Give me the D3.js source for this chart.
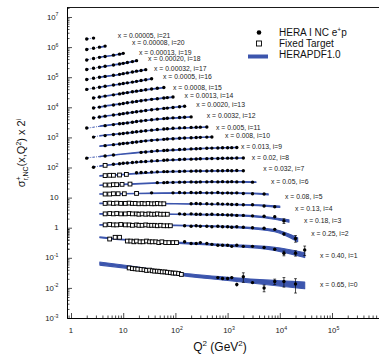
<!DOCTYPE html>
<html>
<head>
<meta charset="utf-8">
<script src="https://cdn.jsdelivr.net/npm/d3@7"></script>
<style>
  body { margin: 0; background: #fff; }
  svg { display: block; font-family: "Liberation Sans", Arial, Helvetica, sans-serif; }
</style>
</head>
<body>
<svg id="chart" width="379" height="356"></svg>
<script>
// x bins, index = i (plotted value is sigma_r * 2^i)
const xLabels = ['0.65', '0.40', '0.25', '0.18', '0.13', '0.08', '0.05', '0.032', '0.02', '0.013', '0.008',
  '0.005', '0.0032', '0.0020', '0.0013', '0.0008', '0.0005', '0.00032', '0.00020', '0.00013', '0.00008', '0.00005'];

// HERA I NC e+p combined points
const heraQ2 = [
  [650, 800, 1000, 1200, 1500, 2000, 3000, 5000, 8000, 12000, 20000],
  [150, 200, 250, 300, 400, 500, 650, 800, 1000, 1200, 1500, 2000, 3000, 5000, 8000, 12000, 20000, 30000],
  [150, 200, 250, 300, 400, 500, 650, 800, 1000, 1200, 1500, 2000, 3000, 5000, 8000, 12000, 20000],
  [120, 150, 200, 250, 300, 400, 500, 650, 800, 1000, 1200, 1500, 2000, 3000, 5000, 8000, 12000],
  [200, 250, 300, 400, 500, 650, 800, 1000, 1200, 1500, 2000, 3000, 5000, 8000],
  [35, 90, 120, 150, 200, 250, 300, 400, 500, 650, 800, 1000, 1200, 1500, 2000, 3000, 5000],
  [45, 60, 70, 90, 120, 150, 200, 250, 300, 400, 500, 650, 800, 1000, 1200, 1500, 2000, 3000],
  [18, 22, 27, 35, 45, 60, 70, 90, 120, 150, 200, 250, 300, 400, 500, 650, 800, 1000, 1200, 1500, 2000],
  [2.7, 6.5, 8.5, 10, 12, 15, 18, 22, 27, 35, 45, 60, 70, 90, 120, 150, 200, 250, 300, 400, 500, 650, 800, 1000, 1200, 1500, 2000],
  [2, 4.5, 6.5, 22, 27, 35, 45, 60, 70, 90, 120, 150, 200, 250, 300, 400, 500, 650, 800, 1000, 1200, 1500],
  [4.5, 6.5, 8.5, 10, 12, 15, 18, 22, 27, 35, 45, 60, 70, 90, 120, 150, 200, 250, 300, 400, 500],
  [2.7, 4.5, 6.5, 8.5, 10, 12, 15, 18, 22, 27, 35, 45, 60, 70, 90, 120, 150, 200, 250, 300, 400],
  [2, 4.5, 6.5, 8.5, 10, 12, 15, 18, 22, 27, 35, 45, 60, 70, 90, 120, 150, 200],
  [2.7, 3.5, 4.5, 6.5, 8.5, 10, 12, 15, 18, 22, 27, 35, 45, 60, 70, 90, 120, 150],
  [2.7, 3.5, 4.5, 6.5, 8.5, 10, 12, 15, 18, 22, 27, 35, 45, 60, 70, 90],
  [2.7, 3.5, 4.5, 6.5, 8.5, 10, 12, 15, 18, 22, 27, 35, 45, 60],
  [2, 2.7, 3.5, 4.5, 6.5, 8.5, 10, 12, 15, 18, 22, 27, 35],
  [2, 2.7, 3.5, 4.5, 6.5, 8.5, 10, 12, 15, 18, 22, 27],
  [2, 2.7, 3.5, 4.5, 6.5, 8.5, 10, 12, 15, 18],
  [2, 2.7, 3.5, 4.5, 6.5, 8.5, 10],
  [2, 2.7, 3.5, 4.5],
  [2, 2.7]
];
const heraSigma = [
  [0.022, 0.0205, 0.0205, 0.022, 0.013, 0.0235, 0.015, 0.0099, 0.0163, 0.0163, 0.0135],
  [0.17, 0.15, 0.15, 0.16, 0.15, 0.14, 0.13, 0.13, 0.13, 0.12, 0.13, 0.12, 0.12, 0.11, 0.096, 0.071, 0.071, 0.091],
  [0.29, 0.28, 0.29, 0.28, 0.28, 0.27, 0.28, 0.27, 0.27, 0.26, 0.27, 0.26, 0.25, 0.24, 0.22, 0.155, 0.11],
  [0.36, 0.35, 0.36, 0.35, 0.35, 0.34, 0.35, 0.34, 0.34, 0.33, 0.33, 0.32, 0.32, 0.31, 0.30, 0.29, 0.21],
  [0.39, 0.40, 0.39, 0.39, 0.38, 0.39, 0.38, 0.38, 0.37, 0.37, 0.36, 0.36, 0.33, 0.31],
  [0.45, 0.45, 0.46, 0.45, 0.46, 0.45, 0.46, 0.45, 0.45, 0.46, 0.44, 0.45, 0.44, 0.45, 0.43, 0.42, 0.41],
  [0.49, 0.49, 0.50, 0.50, 0.51, 0.51, 0.52, 0.51, 0.52, 0.52, 0.53, 0.52, 0.53, 0.52, 0.53, 0.52, 0.52, 0.51],
  [0.52, 0.53, 0.54, 0.55, 0.56, 0.57, 0.57, 0.58, 0.58, 0.59, 0.59, 0.60, 0.60, 0.60, 0.61, 0.61, 0.61, 0.62, 0.61, 0.62, 0.61],
  [0.40, 0.50, 0.52, 0.54, 0.55, 0.57, 0.59, 0.61, 0.62, 0.64, 0.66, 0.68, 0.69, 0.70, 0.72, 0.73, 0.74, 0.75, 0.76, 0.77, 0.78, 0.78, 0.79, 0.80, 0.80, 0.81, 0.81],
  [0.40, 0.47, 0.51, 0.62, 0.64, 0.67, 0.70, 0.72, 0.73, 0.75, 0.77, 0.79, 0.81, 0.82, 0.83, 0.85, 0.86, 0.87, 0.88, 0.88, 0.89, 0.90],
  [0.52, 0.56, 0.59, 0.61, 0.63, 0.66, 0.69, 0.72, 0.75, 0.78, 0.81, 0.84, 0.86, 0.88, 0.91, 0.93, 0.95, 0.97, 0.98, 1.00, 1.01],
  [0.50, 0.56, 0.61, 0.64, 0.66, 0.69, 0.72, 0.75, 0.78, 0.81, 0.85, 0.89, 0.93, 0.95, 0.98, 1.01, 1.03, 1.05, 1.06, 1.07, 1.08],
  [0.50, 0.60, 0.65, 0.69, 0.71, 0.74, 0.78, 0.82, 0.86, 0.90, 0.94, 0.99, 1.03, 1.06, 1.09, 1.12, 1.14, 1.17],
  [0.54, 0.58, 0.62, 0.68, 0.72, 0.75, 0.79, 0.83, 0.87, 0.91, 0.96, 1.01, 1.06, 1.12, 1.15, 1.20, 1.27, 1.32],
  [0.58, 0.62, 0.67, 0.73, 0.78, 0.82, 0.86, 0.91, 0.96, 1.01, 1.06, 1.12, 1.18, 1.24, 1.28, 1.34],
  [0.62, 0.67, 0.72, 0.79, 0.85, 0.89, 0.94, 1.00, 1.05, 1.11, 1.17, 1.24, 1.31, 1.39],
  [0.60, 0.66, 0.71, 0.76, 0.84, 0.90, 0.94, 0.99, 1.05, 1.11, 1.18, 1.26, 1.36],
  [0.64, 0.70, 0.76, 0.81, 0.89, 0.95, 1.00, 1.06, 1.14, 1.21, 1.28, 1.36],
  [0.69, 0.76, 0.82, 0.88, 0.97, 1.05, 1.10, 1.17, 1.26, 1.35],
  [0.71, 0.80, 0.87, 0.93, 1.03, 1.11, 1.18],
  [0.79, 0.87, 0.95, 1.03],
  [0.89, 0.95]
];
// relative total errors, only where the bars show
const heraErr = [
  [0.05, 0.06, 0.08, 0.12, 0.15, 0.35, 0.1, 0.25, 0.2, 0.35, 0.5],
  [0.03, 0.03, 0.03, 0.03, 0.03, 0.03, 0.03, 0.03, 0.04, 0.04, 0.05, 0.05, 0.06, 0.07, 0.1, 0.18, 0.2, 0.35],
  [0.02, 0.02, 0.02, 0.02, 0.02, 0.02, 0.02, 0.03, 0.03, 0.03, 0.03, 0.04, 0.04, 0.05, 0.07, 0.12, 0.25],
  [0.02, 0.02, 0.02, 0.02, 0.02, 0.02, 0.02, 0.02, 0.03, 0.03, 0.03, 0.03, 0.04, 0.04, 0.06, 0.1, 0.18]
];

// fixed target (BCDMS, NMC) points
const ftQ2 = [
  [13, 15, 17, 19, 22, 25, 28, 32, 36, 40, 45, 50, 56, 63, 70, 80, 90, 100, 115, 130],
  [5.5, 7, 8.5, 12, 14, 16, 18, 21, 24, 28, 32, 36, 42, 48, 55, 65, 75, 90, 105],
  [4.5, 5.5, 6.5, 7.5, 9, 11, 13, 15, 18, 20, 23, 27, 31, 35, 40, 45, 52, 60, 70, 80],
  [4.5, 5.5, 6.5, 7.5, 9, 11, 13, 15, 18, 20, 23, 27, 31, 35, 40, 45, 52, 60, 70],
  [4.5, 5.5, 6.5, 7.5, 9, 11, 13, 15, 17, 20, 23, 26, 30, 35, 40, 45, 52, 60],
  [4.5, 5.5, 6.5, 8, 10.5, 18],
  [4.5, 5.5, 6.5, 7.5, 9.5, 13.5],
  [4.5, 5.5, 6.5, 8.5, 11.5],
  [4.5]
];
const ftSigma = [
  [0.046, 0.044, 0.043, 0.042, 0.041, 0.040, 0.038, 0.039, 0.037, 0.036, 0.036, 0.035, 0.034, 0.034, 0.033, 0.032, 0.031, 0.031, 0.030, 0.028],
  [0.21, 0.24, 0.24, 0.18, 0.18, 0.17, 0.18, 0.17, 0.17, 0.18, 0.17, 0.17, 0.17, 0.16, 0.17, 0.16, 0.16, 0.16, 0.16],
  [0.31, 0.32, 0.31, 0.31, 0.32, 0.31, 0.31, 0.30, 0.31, 0.30, 0.30, 0.31, 0.30, 0.30, 0.30, 0.29, 0.30, 0.29, 0.29, 0.29],
  [0.36, 0.37, 0.36, 0.37, 0.36, 0.36, 0.37, 0.36, 0.36, 0.35, 0.36, 0.35, 0.36, 0.35, 0.35, 0.36, 0.35, 0.35, 0.35],
  [0.40, 0.41, 0.40, 0.41, 0.40, 0.40, 0.41, 0.40, 0.40, 0.39, 0.40, 0.39, 0.40, 0.39, 0.39, 0.40, 0.39, 0.39],
  [0.41, 0.41, 0.42, 0.42, 0.42, 0.43],
  [0.41, 0.41, 0.42, 0.42, 0.43, 0.44],
  [0.42, 0.43, 0.43, 0.44, 0.46],
  [0.46]
];

// HERAPDF1.0 prediction: nodes of the band (centre and relative half width)
const pdfQ2 = [
  [3.5, 10, 30, 100, 1000, 30000],
  [3.5, 10, 100, 1000, 8000, 30000],
  [3.5, 10, 100, 1000, 8000, 22000],
  [3.5, 10, 100, 1000, 5000, 15000],
  [3.5, 10, 100, 1000, 5000, 10000],
  [3.5, 10, 60, 500, 3000, 6000],
  [3.5, 10, 45, 300, 1500, 3500],
  [3.5, 8.5, 30, 200, 2000],
  [2.7, 4.5, 12, 60, 400, 2000],
  [2, 3.5, 10, 60, 300, 1500],
  [3.5, 8.5, 27, 120, 500],
  [2.7, 3.5, 10, 35, 400],
  [2, 3.5, 8.5, 27, 200],
  [2.7, 4.5, 10, 35, 150],
  [2.7, 4.5, 10, 27, 90],
  [2.7, 4.5, 10, 27, 60],
  [2, 3.5, 8.5, 18, 35],
  [2, 3.5, 8.5, 15, 27],
  [2, 3.5, 6.5, 12, 18],
  [2, 3.5, 6.5, 10],
  [2, 2.7, 3.5, 4.5],
  [2, 2.7]
];
const pdfSigma = [
  [0.065, 0.052, 0.040, 0.030, 0.020, 0.0125],
  [0.24, 0.20, 0.16, 0.13, 0.10, 0.062],
  [0.31, 0.31, 0.30, 0.27, 0.20, 0.10],
  [0.36, 0.36, 0.35, 0.33, 0.28, 0.21],
  [0.40, 0.40, 0.39, 0.37, 0.34, 0.31],
  [0.41, 0.42, 0.44, 0.45, 0.43, 0.40],
  [0.40, 0.43, 0.48, 0.52, 0.52, 0.51],
  [0.41, 0.45, 0.52, 0.59, 0.61],
  [0.41, 0.46, 0.55, 0.67, 0.77, 0.81],
  [0.41, 0.45, 0.55, 0.71, 0.83, 0.90],
  [0.50, 0.59, 0.75, 0.91, 1.01],
  [0.51, 0.55, 0.66, 0.84, 1.08],
  [0.49, 0.57, 0.69, 0.89, 1.17],
  [0.54, 0.62, 0.75, 1.01, 1.32],
  [0.58, 0.67, 0.82, 1.06, 1.33],
  [0.62, 0.72, 0.89, 1.16, 1.38],
  [0.60, 0.71, 0.89, 1.10, 1.35],
  [0.64, 0.76, 0.94, 1.13, 1.35],
  [0.69, 0.82, 0.97, 1.16, 1.33],
  [0.72, 0.87, 1.02, 1.17],
  [0.80, 0.88, 0.95, 1.01],
  [0.88, 0.96]
];
const pdfErr = [
  [0.12, 0.11, 0.10, 0.10, 0.12, 0.25],
  [0.03, 0.03, 0.04, 0.06, 0.12, 0.18],
  [0.02, 0.02, 0.02, 0.04, 0.08, 0.15],
  [0.02, 0.02, 0.02, 0.03, 0.05, 0.09],
  [0.02, 0.02, 0.02, 0.02, 0.04, 0.06],
  [0.02, 0.02, 0.02, 0.02, 0.03, 0.04],
  [0.02, 0.02, 0.02, 0.02, 0.02, 0.03],
  [0.02, 0.02, 0.02, 0.02, 0.02],
  [0.02, 0.02, 0.02, 0.02, 0.02, 0.02],
  [0.02, 0.02, 0.02, 0.02, 0.02, 0.02],
  [0.02, 0.02, 0.02, 0.02, 0.02],
  [0.02, 0.02, 0.02, 0.02, 0.02],
  [0.02, 0.02, 0.02, 0.02, 0.02],
  [0.02, 0.02, 0.02, 0.02, 0.02],
  [0.02, 0.02, 0.02, 0.02, 0.02],
  [0.02, 0.02, 0.02, 0.02, 0.02],
  [0.02, 0.02, 0.02, 0.02, 0.02],
  [0.02, 0.02, 0.02, 0.02, 0.02],
  [0.02, 0.02, 0.02, 0.02, 0.02],
  [0.02, 0.02, 0.02, 0.02],
  [0.02, 0.02, 0.02, 0.02],
  [0.02, 0.02]
];

// where each "x = ..., i=..." label sits (Q2, sigma)
const labelQ2 = [5.9e4, 5.9e4, 4.0e4, 2.9e4, 1.96e4, 1.26e4, 6800, 4800, 2900, 1800, 890, 600, 400, 250, 150, 90, 58, 39, 30, 20, 14.7, 7.9];
const labelSigma = [0.0125, 0.0574, 0.155, 0.225, 0.282, 0.353, 0.556, 0.70, 0.87, 0.94, 1.09, 1.08, 1.26, 1.57, 1.45, 1.44, 1.67, 1.54, 1.54, 1.31, 1.31, 1.20];

const yMajorTicks = [1e-3, 1e-2, 1e-1, 1, 10, 1e2, 1e3, 1e4, 1e5, 1e6, 1e7];
const xMajorTicks = [1, 10, 1e2, 1e3, 1e4, 1e5, 1e6];

const W = 379, H = 356;
const plot = { left: 67, top: 7, bottom: 318 };
const Q2_MIN_FIT = 3.5;
const bandColor = '#3c55ad';

const svg = d3.select('#chart');

const x = d3.scaleLog().domain([0.838, 1e6]).range([plot.left, 384.2]);
const y = d3.scaleLog().domain([1e-3, 2.148e7]).range([plot.bottom, plot.top]);

const scaled = (s, i) => s * Math.pow(2, i);

const minorOf = (majors, maxVal) => {
  const out = [];
  majors.forEach(m => d3.range(2, 10).forEach(k => { if (k * m < maxVal) out.push(k * m); }));
  return out;
};

// clips: below Q2 = 3.5 the prediction is an extrapolation (dashed)
const defs = svg.append('defs');
defs.append('clipPath').attr('id', 'lowQ').append('rect')
  .attr('x', plot.left).attr('y', plot.top)
  .attr('width', x(Q2_MIN_FIT) - plot.left).attr('height', plot.bottom - plot.top);
defs.append('clipPath').attr('id', 'highQ').append('rect')
  .attr('x', x(Q2_MIN_FIT)).attr('y', plot.top)
  .attr('width', W - x(Q2_MIN_FIT)).attr('height', plot.bottom - plot.top);

// axes
const yAxisG = svg.append('g').attr('transform', `translate(${plot.left},0)`);
yAxisG.append('g')
  .call(d3.axisLeft(y).tickValues(minorOf([0.1].concat(yMajorTicks), y.domain()[1]).filter(v => v > 1e-3))
    .tickSize(-2.5).tickSizeOuter(0).tickFormat(''))
  .call(g => g.select('.domain').remove());
yAxisG.append('g')
  .call(d3.axisLeft(y).tickValues(yMajorTicks).tickSize(-5).tickSizeOuter(0).tickFormat(''));

const xAxisG = svg.append('g').attr('transform', `translate(0,${plot.bottom})`);
xAxisG.append('g')
  .call(d3.axisBottom(x).tickValues(minorOf([0.1].concat(xMajorTicks), 1e6).filter(v => v > x.domain()[0]))
    .tickSize(-2.5).tickSizeOuter(0).tickFormat(''))
  .call(g => g.select('.domain').remove());
xAxisG.append('g')
  .call(d3.axisBottom(x).tickValues(xMajorTicks).tickSize(-5).tickSizeOuter(0).tickFormat(''));

svg.selectAll('.tick line').attr('stroke', '#000').attr('stroke-width', 0.7);
svg.selectAll('.domain').attr('stroke', '#000').attr('stroke-width', 1);

// top frame line
svg.append('line')
  .attr('x1', plot.left).attr('x2', W).attr('y1', plot.top + 0.5).attr('y2', plot.top + 0.5)
  .attr('stroke', '#000').attr('stroke-width', 0.9);

// tick labels with exponents
const expOf = v => Math.round(Math.log10(v));
yMajorTicks.forEach(v => {
  const p = expOf(v);
  const t = svg.append('text')
    .attr('x', 58.5).attr('y', y(v) + 2.7)
    .attr('text-anchor', 'end').attr('font-size', 7.8).attr('fill', '#222');
  if (p === 0) { t.text('1'); return; }
  t.append('tspan').text('10');
  if (p !== 1) {
    t.append('tspan').attr('font-size', 5.2).attr('dy', -3.2).text(p < 0 ? '-' + (-p) : p);
  }
});
xMajorTicks.filter(v => v <= 1e5).forEach(v => {
  const p = expOf(v);
  const xx = x(v);
  svg.append('text')
    .attr('x', xx).attr('y', 333)
    .attr('text-anchor', 'middle').attr('font-size', 7.8).attr('fill', '#222')
    .text(p === 0 ? '1' : '10');
  if (p > 1) {
    svg.append('text')
      .attr('x', xx + 4.5).attr('y', 329.5)
      .attr('font-size', 5.2).attr('fill', '#222')
      .text(p);
  }
});

// HERAPDF bands
const bandG = svg.append('g');
pdfQ2.forEach((qs, i) => {
  const nodes = qs.map((q, k) => ({ q, s: pdfSigma[i][k], e: pdfErr[i][k] }));
  const area = d3.area().curve(d3.curveMonotoneX)
    .x(d => x(d.q))
    .y0(d => y(scaled(d.s * (1 - d.e), i)))
    .y1(d => y(scaled(d.s * (1 + d.e), i)));
  const line = d3.line().curve(d3.curveMonotoneX)
    .x(d => x(d.q))
    .y(d => y(scaled(d.s, i)));

  bandG.append('path').datum(nodes)
    .attr('d', area)
    .attr('clip-path', 'url(#highQ)')
    .attr('fill', bandColor)
    .attr('stroke', bandColor)
    .attr('stroke-width', 1.1)
    .attr('stroke-linejoin', 'round');

  bandG.append('path').datum(nodes)
    .attr('d', line)
    .attr('clip-path', 'url(#lowQ)')
    .attr('fill', 'none')
    .attr('stroke', bandColor)
    .attr('stroke-width', 1)
    .attr('stroke-dasharray', '2.5,1.2,0.8,1.2');
});

// fixed target squares
const ftG = svg.append('g');
ftQ2.forEach((qs, i) => {
  ftG.selectAll(null)
    .data(qs.map((q, k) => ({ q, v: scaled(ftSigma[i][k], i) })))
    .enter().append('rect')
    .attr('x', d => x(d.q) - 1.9)
    .attr('y', d => y(d.v) - 1.9)
    .attr('width', 3.8).attr('height', 3.8)
    .attr('fill', '#fff')
    .attr('stroke', '#000')
    .attr('stroke-width', 0.95);
});

// HERA points (with error bars where given)
const heraG = svg.append('g');
heraQ2.forEach((qs, i) => {
  const pts = qs.map((q, k) => ({ q, v: scaled(heraSigma[i][k], i), e: heraErr[i] ? heraErr[i][k] : 0 }));

  pts.filter(d => d.e > 0).forEach(d => {
    const cx = x(d.q);
    const yHi = y(d.v * (1 + d.e));
    const yLo = y(d.v * (1 - d.e));
    heraG.append('line')
      .attr('x1', cx).attr('x2', cx).attr('y1', yHi).attr('y2', yLo)
      .attr('stroke', '#000').attr('stroke-width', 0.7);
    if (yLo - yHi > 4.5) {
      [yHi, yLo].forEach(yy => heraG.append('line')
        .attr('x1', cx - 1.4).attr('x2', cx + 1.4).attr('y1', yy).attr('y2', yy)
        .attr('stroke', '#000').attr('stroke-width', 0.7));
    }
  });

  heraG.selectAll(null)
    .data(pts)
    .enter().append('circle')
    .attr('cx', d => x(d.q))
    .attr('cy', d => y(d.v))
    .attr('r', 1.7)
    .attr('fill', '#000');
});

// bin labels
xLabels.forEach((lab, i) => {
  svg.append('text')
    .attr('x', x(labelQ2[i]))
    .attr('y', y(scaled(labelSigma[i], i)))
    .attr('dominant-baseline', 'central')
    .attr('font-size', 6.8)
    .attr('fill', '#222')
    .text(`x = ${lab}, i=${i}`);
});

// legend
const leg = svg.append('g');
leg.append('circle').attr('cx', 259).attr('cy', 32.5).attr('r', 2.3).attr('fill', '#000');
leg.append('rect').attr('x', 256.5).attr('y', 41).attr('width', 5).attr('height', 5)
  .attr('fill', '#fff').attr('stroke', '#000').attr('stroke-width', 0.9);
leg.append('line').attr('x1', 248).attr('x2', 268).attr('y1', 56.5).attr('y2', 56.5)
  .attr('stroke', bandColor).attr('stroke-width', 4);
const legText = leg.append('g').attr('font-size', 10).attr('fill', '#111');
const t1 = legText.append('text').attr('x', 279).attr('y', 36);
t1.append('tspan').text('HERA I NC e');
t1.append('tspan').attr('font-size', 6.5).attr('dy', -4).text('+');
t1.append('tspan').attr('dy', 4).text('p');
legText.append('text').attr('x', 279).attr('y', 47).text('Fixed Target');
legText.append('text').attr('x', 279).attr('y', 58).text('HERAPDF1.0');

// axis titles
const xt = svg.append('text')
  .attr('x', 220).attr('y', 351)
  .attr('text-anchor', 'middle').attr('font-size', 12).attr('fill', '#111');
xt.append('tspan').text('Q');
xt.append('tspan').attr('font-size', 8).attr('dy', -5).text('2');
xt.append('tspan').attr('dy', 5).text(' (GeV');
xt.append('tspan').attr('font-size', 8).attr('dy', -5).text('2');
xt.append('tspan').attr('dy', 5).text(')');

const yt = svg.append('text')
  .attr('transform', 'translate(25,153) rotate(-90)')
  .attr('text-anchor', 'middle').attr('font-size', 11).attr('fill', '#111');
yt.append('tspan').text('σ');
yt.append('tspan').attr('font-size', 7).attr('dy', -4.5).text('+');
yt.append('tspan').attr('font-size', 7).attr('dx', -4).attr('dy', 7.5).text('r,NC');
yt.append('tspan').attr('dy', -3).text('(x,Q');
yt.append('tspan').attr('font-size', 7).attr('dy', -4.5).text('2');
yt.append('tspan').attr('dy', 4.5).text(') x 2');
yt.append('tspan').attr('font-size', 7).attr('dy', -4.5).text('i');
</script>
</body>
</html>
